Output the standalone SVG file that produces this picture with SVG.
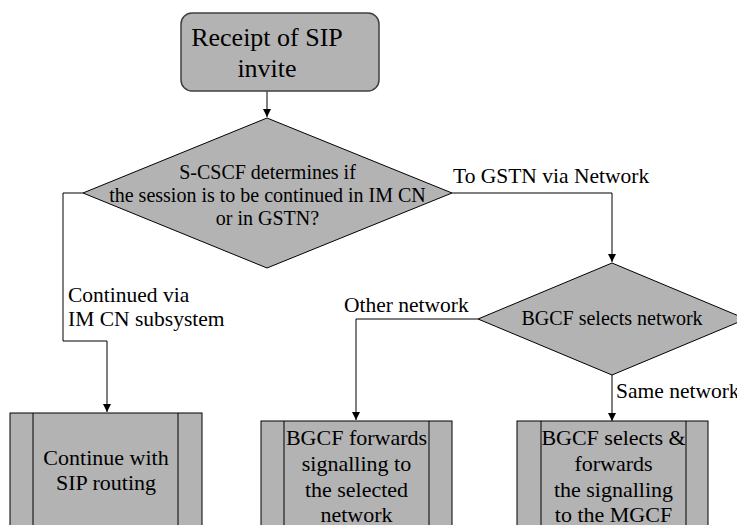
<svg xmlns="http://www.w3.org/2000/svg" width="737" height="525" viewBox="0 0 737 525" font-family="'Liberation Serif', serif">
<style>
text{font-family:'Liberation Serif',serif;fill:#000;text-anchor:middle}
.shape{fill:#b3b3b3;stroke:#000;stroke-width:1}
.lbl{font-size:21.5px;text-anchor:start}
.box{font-size:22px}
.dt{font-size:20px}
.conn{fill:none;stroke:#000;stroke-width:1}
</style>
<defs>
<marker id="arr" markerWidth="9" markerHeight="8" refX="8" refY="4" orient="auto" markerUnits="userSpaceOnUse">
<path d="M0,0 L8,4 L0,8 z" fill="#000"/>
</marker>
</defs>
<g id="connectors">
<path class="conn" d="M267,91 V117" marker-end="url(#arr)"/>
<path class="conn" d="M83,193 H63 V341 H107 V412" stroke="#444" marker-end="url(#arr)"/>
<path class="conn" d="M452,193 H612 V262" marker-end="url(#arr)"/>
<path class="conn" d="M478,319 H356 V420" marker-end="url(#arr)"/>
<path class="conn" d="M612,375 V421" marker-end="url(#arr)"/>
<text class="lbl" x="453" y="183">To GSTN via Network</text>
<text class="lbl" x="68" y="302">Continued via</text>
<text class="lbl" x="68" y="326">IM CN subsystem</text>
<text class="lbl" x="344" y="312">Other network</text>
<text class="lbl" x="616" y="398">Same network</text>
</g>
<g id="start">
<rect x="181" y="13" width="198" height="78" rx="11" ry="11" fill="#b3b3b3" stroke="#404040" stroke-width="1.5"/>
<text x="267" y="46" font-size="26">Receipt of SIP</text>
<text x="267" y="77" font-size="26">invite</text>
</g>
<g id="decision1">
<polygon class="shape" points="267,118 452,193 267,268 83,193"/>
<text class="dt" x="267.5" y="179">S-CSCF determines if</text>
<text class="dt" x="267.5" y="202">the session is to be continued in IM CN</text>
<text class="dt" x="267.5" y="225">or in GSTN?</text>
</g>
<g id="decision2">
<polygon class="shape" points="612,263 746,319 612,375 478,319"/>
<text class="dt" x="612" y="325">BGCF selects network</text>
</g>
<g id="box1">
<rect class="shape" x="10" y="413" width="192" height="120"/>
<line class="conn" x1="33" y1="413" x2="33" y2="525"/>
<line class="conn" x1="178" y1="413" x2="178" y2="525"/>
<text class="box" x="106" y="465">Continue with</text>
<text class="box" x="106" y="490">SIP routing</text>
</g>
<g id="box2">
<rect class="shape" x="261" y="421" width="191" height="120"/>
<line class="conn" x1="284" y1="421" x2="284" y2="525"/>
<line class="conn" x1="429" y1="421" x2="429" y2="525"/>
<text class="box" x="356.5" y="445">BGCF forwards</text>
<text class="box" x="356.5" y="471">signalling to</text>
<text class="box" x="356.5" y="497">the selected</text>
<text class="box" x="356.5" y="522">network</text>
</g>
<g id="box3">
<rect class="shape" x="517" y="421" width="191" height="120"/>
<line class="conn" x1="541" y1="421" x2="541" y2="525"/>
<line class="conn" x1="686" y1="421" x2="686" y2="525"/>
<text class="box" x="613.5" y="445">BGCF selects &amp;</text>
<text class="box" x="613.5" y="471">forwards</text>
<text class="box" x="613.5" y="497">the signalling</text>
<text class="box" x="613.5" y="522">to the MGCF</text>
</g>
</svg>
